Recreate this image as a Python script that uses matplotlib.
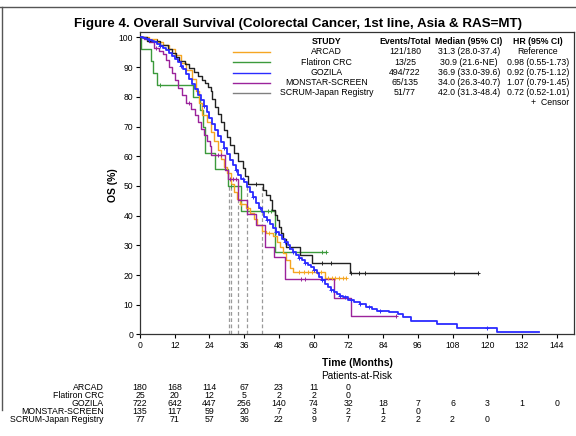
import numpy as np
import matplotlib
matplotlib.use("Agg")
import matplotlib.pyplot as plt
from matplotlib.lines import Line2D
from matplotlib.transforms import blended_transform_factory

plt.rcParams["font.family"] = ["Liberation Sans", "DejaVu Sans"]

# ---------------- DATA ----------------

studies = ["ARCAD", "Flatiron CRC", "GOZILA", "MONSTAR-SCREEN", "SCRUM-Japan Registry"]
events = ["121/180", "13/25", "494/722", "65/135", "51/77"]
medians_txt = ["31.3 (28.0-37.4)", "30.9 (21.6-NE)", "36.9 (33.0-39.6)",
               "34.0 (26.3-40.7)", "42.0 (31.3-48.4)"]
hr_txt = ["Reference", "0.98 (0.55-1.73)", "0.92 (0.75-1.12)",
          "1.07 (0.79-1.45)", "0.72 (0.52-1.01)"]
medians = [31.3, 30.9, 36.9, 34.0, 42.0]

# KM step curves (time in months, OS %)
arcad_t = [0, 3, 6, 8, 10, 12, 14, 16, 18, 19.5, 20.5, 21.5, 23, 24.5, 25.5, 27, 28, 29,
           30, 31.3, 32.5, 33.5, 34.5, 36.5, 38, 39.5, 40.5, 42, 43.5, 46, 47.5, 48.5,
           49.5, 50.5, 52, 53, 63.8, 71.3]
arcad_s = [100, 99.5, 98.5, 97.5, 96, 94, 91.5, 89, 86, 82, 78, 74, 71.5, 68, 65, 62, 59,
           56.5, 54.5, 50.5, 48, 45.5, 44, 42.5, 41, 39, 37, 35, 34, 33, 31, 29.5, 27.5,
           25, 22.5, 21, 19, 19]
arcad_c = [35, 37.2, 44.5, 55, 56.5, 58, 59.5, 61, 62.5, 65, 66.2, 67.5, 68.8, 70, 71.3]

flat_t = [0, 0.5, 3.7, 4.4, 6, 18.4, 20.9, 21.8, 22.4, 25.9, 30.4, 35, 46.6, 64.4]
flat_s = [100, 96, 92, 88, 84, 80, 75.7, 70, 61.2, 55.6, 50, 41.5, 27.6, 27.6]
flat_c = [6.8, 31.5, 44.3, 45.1, 63.0, 64.4]

goz_t = [0, 1, 2, 3, 4, 5, 6, 7, 8, 9, 10, 11, 12, 13, 14, 15, 16, 17, 18, 19, 20, 21,
         22, 23, 24, 25, 26, 27, 28, 29, 30, 31, 32, 33, 34, 35, 36, 37, 38, 39, 40, 41,
         42, 43, 44, 45, 46, 47, 48, 49, 50, 51, 52, 53, 54, 55, 56, 57, 58, 59, 60, 61,
         62, 63, 64, 65, 66, 67, 68, 69, 70, 72, 74, 76, 78, 80, 82, 86, 89, 91, 93.7,
         102.8, 109.6, 123.3, 138]
goz_s = [100, 99.8, 99.5, 99.2, 98.8, 98.3, 97.8, 97.2, 96.5, 95.7, 94.8, 93.8, 92.8,
         91.7, 90.5, 89.2, 87.6, 86, 84.3, 82.5, 80.7, 78.8, 76.9, 74.9, 72.8, 70.8, 68.8,
         66.8, 64.8, 62.7, 60.7, 58.8, 57, 55.2, 53.6, 52.4, 51.2, 49.8, 48, 46.2, 44.4,
         42.7, 41.1, 39.7, 38.4, 37.1, 35.8, 34.6, 33.4, 32.3, 31.2, 30, 28.9, 27.8, 26.8,
         25.9, 25, 24.2, 23.4, 22.6, 21.7, 20.6, 19.5, 18.3, 17.1, 16, 15, 14.2, 13.5, 13,
         12.5, 11.7, 11, 10.3, 9.4, 8.5, 8, 7.5, 7, 6, 4.4, 3.6, 2.3, 0.8, 0.8]
goz_c = [3, 7, 14, 22, 29, 33, 35.5, 39, 41.5, 44, 47, 50, 53, 55, 57, 60, 63, 66, 69,
         71, 73, 76, 79, 83, 120]

mon_t = [0, 1.5, 3, 5, 6.5, 8, 9, 10, 11, 12, 13, 14.5, 16, 17.5, 19, 20, 21, 22, 23,
         24.1, 24.7, 29.5, 30.5, 34.0, 36.8, 40.2, 43.1, 46.2, 50, 66.9, 73.0, 88.5]
mon_s = [100, 99.5, 98.5, 96.5, 95.5, 94.5, 92.5, 90, 88, 85.5, 83, 80.5, 78, 76, 74,
         71.5, 69, 67, 65, 63.5, 60.5, 55.5, 52.2, 45.2, 40.5, 37, 29.6, 26, 18.6, 12.2,
         6.1, 6.1]
mon_c = [5.5, 17, 27, 28, 31, 32, 33, 55.7, 56.9, 88.5]

scrum_t = [0, 2.5, 7, 9.5, 11, 12.5, 13.5, 15.5, 17, 18.5, 20, 21.5, 22.5, 23.5, 24.5,
           25, 26, 27, 28, 29, 30, 31, 32.5, 34, 35.5, 36.3, 37.4, 42.5, 43.5, 45, 45.7,
           46.5, 47.2, 48, 48.8, 49.5, 50.3, 55.2, 59.5, 72.4, 116.9]
scrum_s = [100, 98.7, 97.4, 96.1, 94.8, 93.5, 92.2, 91, 89.7, 88.4, 87.1, 85.8, 84.5,
           83.2, 81.9, 79.3, 76.7, 74.1, 71.5, 68.9, 66.3, 63.7, 61.1, 58.5, 55.9, 53.3,
           50.6, 48.5, 46.8, 45.2, 41.9, 40.2, 38.5, 36.3, 34.2, 32.2, 29.5, 26.8, 24.2,
           20.8, 20.8]
scrum_c = [6, 40, 51.5, 62.8, 65.9, 73.0, 75.6, 77.6, 108.6, 116.9]

# patients at risk
risk_times = [0, 12, 24, 36, 48, 60, 72, 84, 96, 108, 120, 132, 144]
risk_arcad = [180, 168, 114, 67, 23, 11, 0]
risk_flat = [25, 20, 12, 5, 2, 2, 0]
risk_goz = [722, 642, 447, 256, 140, 74, 32, 18, 7, 6, 3, 1, 0]
risk_mon = [135, 117, 59, 20, 7, 3, 2, 1, 0]
risk_scrum = [77, 71, 57, 36, 22, 9, 7, 2, 2, 2, 0]

colors = ["#F5A623", "#3C9A3C", "#2B2BFF", "#9B239B", "#222222"]
legend_colors = ["#F5A623", "#3C9A3C", "#2B2BFF", "#9B239B", "#808080"]

# ---------------- PLOT ----------------

fig = plt.figure(figsize=(5.76, 4.36), dpi=100)
ax = fig.add_axes([0.2431, 0.2328, 0.7535, 0.6931])

curves = [(arcad_t, arcad_s, arcad_c), (flat_t, flat_s, flat_c), (goz_t, goz_s, goz_c),
          (mon_t, mon_s, mon_c), (scrum_t, scrum_s, scrum_c)]

ax.vlines(medians, 0, 50, colors="#9a9a9a", linestyles=(0, (3, 2)), lw=0.9, zorder=1)

draw_order = [1, 0, 3, 4, 2]
for i in draw_order:
    t, s, c = curves[i]
    lw = 1.3 if i == 2 else 1.0
    ax.step(t, s, where="post", color=colors[i], lw=lw, zorder=3 if i == 2 else 2)
    t_arr = np.array(t)
    s_arr = np.array(s)
    idx = np.searchsorted(t_arr, c, side="right") - 1
    ax.plot(c, s_arr[idx], ls="none", marker="+", ms=3.5, mew=0.7, color=colors[i],
            zorder=3)

ax.set_xlim(0, 150)
ax.set_ylim(0, 101.7)
ax.set_xticks(risk_times)
ax.set_yticks(range(0, 101, 10))
ax.tick_params(labelsize=6.2, length=3, width=0.8, pad=2)
for sp in ax.spines.values():
    sp.set_linewidth(0.9)
    sp.set_color("#333333")

# ---------------- LEGEND TABLE ----------------

def fx(px):
    return px / 576


def fy(py):
    return 1 - py / 436


fs = 6.3
col_study, col_ev, col_med, col_hr = 326.7, 405, 469, 538
hdr_y = 41
fig.text(fx(col_study), fy(hdr_y), "STUDY", ha="center", va="center", fontsize=fs,
         fontweight="bold")
fig.text(fx(col_ev), fy(hdr_y), "Events/Total", ha="center", va="center", fontsize=fs,
         fontweight="bold")
fig.text(fx(col_med), fy(hdr_y), "Median (95% CI)", ha="center", va="center",
         fontsize=fs, fontweight="bold")
fig.text(fx(col_hr), fy(hdr_y), "HR (95% CI)", ha="center", va="center", fontsize=fs,
         fontweight="bold")
row_y = [51.7, 62.3, 72.7, 82.7, 92.7]
for i, name in enumerate(studies):
    y = fy(row_y[i])
    fig.add_artist(Line2D([fx(232.5), fx(270)], [y, y], color=legend_colors[i], lw=1.0))
    fig.text(fx(col_study), y, name, ha="center", va="center", fontsize=fs)
    fig.text(fx(col_ev), y, events[i], ha="center", va="center", fontsize=fs)
    fig.text(fx(col_med), y, medians_txt[i], ha="center", va="center", fontsize=fs)
    fig.text(fx(col_hr), y, hr_txt[i], ha="center", va="center", fontsize=fs)
fig.text(fx(569), fy(102.7), "+  Censor", ha="right", va="center", fontsize=fs)

# ---------------- TITLES / LABELS ----------------

fig.text(fx(298.5), fy(24), "Figure 4. Overall Survival (Colorectal Cancer, 1st line, Asia & RAS=MT)",
         ha="center", va="center", fontsize=9.6, fontweight="bold")
fig.text(fx(113), fy(185), "OS (%)", rotation=90, ha="center", va="center",
         fontsize=7.5, fontweight="bold")
fig.text(fx(357), fy(363), "Time (Months)", ha="center", va="center", fontsize=7.5,
         fontweight="bold")
fig.text(fx(357), fy(375.5), "Patients-at-Risk", ha="center", va="center", fontsize=7.2)

# ---------------- AT RISK TABLE ----------------

trans = blended_transform_factory(ax.transData, fig.transFigure)
risk_rows = [risk_arcad, risk_flat, risk_goz, risk_mon, risk_scrum]
risk_y = [387, 395.5, 403.5, 411.5, 419.5]
for i, row in enumerate(risk_rows):
    y = fy(risk_y[i])
    fig.text(fx(104), y, studies[i], ha="right", va="center", fontsize=fs)
    for t, n in zip(risk_times, row):
        ax.text(t, y, str(n), transform=trans, ha="center", va="center", fontsize=fs,
                clip_on=False)

# page rules
fig.add_artist(Line2D([0, 1], [fy(7), fy(7)], color="#555555", lw=1.0))
fig.add_artist(Line2D([fx(1.5), fx(1.5)], [fy(7), fy(410)], color="#555555", lw=1.0))

fig.savefig("out.png", dpi=100)
